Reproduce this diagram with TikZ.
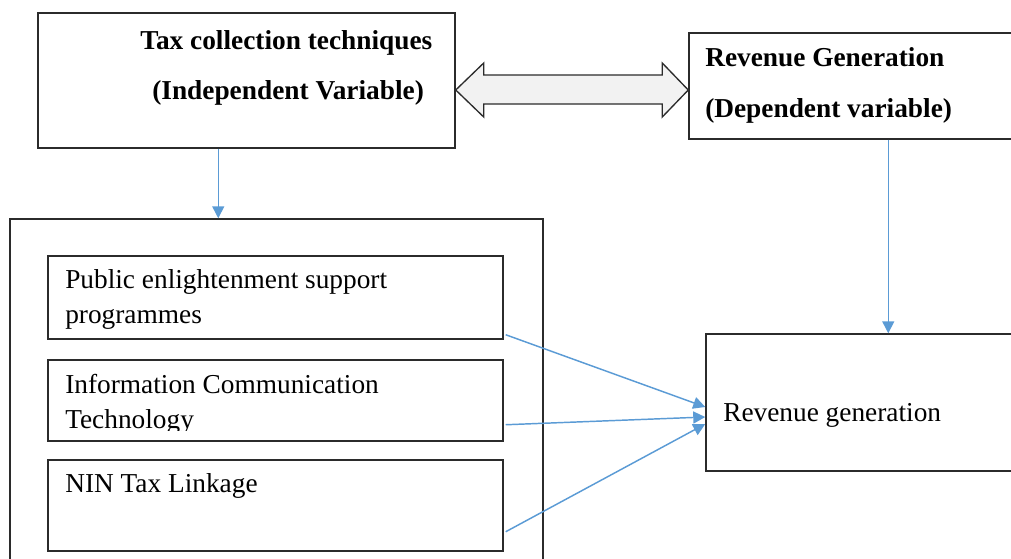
\documentclass[tikz,border=0pt]{standalone}
\usepackage{fontspec}
\setmainfont{Liberation Serif}
\usetikzlibrary{arrows.meta,positioning,fit,calc}
\definecolor{linkblue}{HTML}{5B9BD5}
\definecolor{boxline}{HTML}{2B2B2B}
\definecolor{dblfill}{HTML}{F2F2F2}

\begin{document}
\begin{tikzpicture}[
  x=0.75pt, y=-0.75pt,
  font=\fontsize{20.5}{26.25}\selectfont,
  box/.style={draw=boxline, line width=1.1pt, inner sep=0pt, fit={#1}},
  head/.style={anchor=base west, inner sep=0pt, font=\fontsize{20.5}{37.5}\selectfont\bfseries},
  txt/.style={anchor=base west, inner sep=0pt, align=left},
  flow/.style={-{Triangle[length=9pt, width=9pt]}, linkblue, line width=1.1pt},
  dbl/.style={draw=boxline, line width=1pt, fill=dblfill, line join=miter},
]
\useasboundingbox (0,0) rectangle (1011,558);
\clip (0,0) rectangle (1011,558);
% variable boxes
\node[box={(38,13) (455,148)}] (tax) {};
\node[box={(689,33) (1030,139)}] (rev) {};
\node[head] (taxa) at (140,49) {Tax collection techniques};
\node[head] (taxb) at (152,99) {(Independent Variable)};
\node[head] (reva) at (705,66) {Revenue Generation};
\node[head] (revb) at (705,117) {(Dependent variable)};
% two-way link
\coordinate (dl) at ($(tax.east)+(0,9.5)$);
\coordinate (dr) at (dl -| rev.west);
\draw[dbl] (dl) -- ++(28,-27) -- ++(0,12) -- ($(dr)+(-26,-15)$) -- ++(0,-12)
   -- (dr) -- ++(-26,27) -- ++(0,-13) -- ($(dl)+(28,14)$) -- ++(0,13) -- cycle;
% techniques (base anchor = last line)
\node[box={(10,219) (543,580)}] (outer) {};
\node[box={(48,256) (503,339)}] (pse) {};
\node[box={(48,360) (503,441)}] (ict) {};
\node[box={(48,460) (503,551)}] (nin) {};
\node[txt] (psel) at (65,323) {Public enlightenment support\\programmes};
\begin{scope}
  \clip (48,360) rectangle (503,430);
  \node[txt] (ictl) at (65,428) {Information Communication\\Technology};
\end{scope}
\node[txt] (ninl) at (65,492) {NIN Tax Linkage};
% outcome
\node[box={(706,334) (1030,471)}] (gen) {};
\node[txt] (genl) at (723,421) {Revenue generation};
% connectors
\draw[flow] ($(tax.south west)+(181,0)$) coordinate (a) -- (a |- outer.north);
\draw[flow] ($(rev.south west)+(200,0)$) coordinate (b) -- (b |- gen.north);
\draw[flow] ($(pse.south east)+(2,-5)$) -- ($(gen.west)+(0,4.5)$);
\draw[flow] ($(ict.south east)+(2,-17)$) -- ($(gen.west)+(0,14.5)$);
\draw[flow] ($(nin.south east)+(2,-20)$) -- ($(gen.west)+(0,21.5)$);
\end{tikzpicture}
\end{document}
